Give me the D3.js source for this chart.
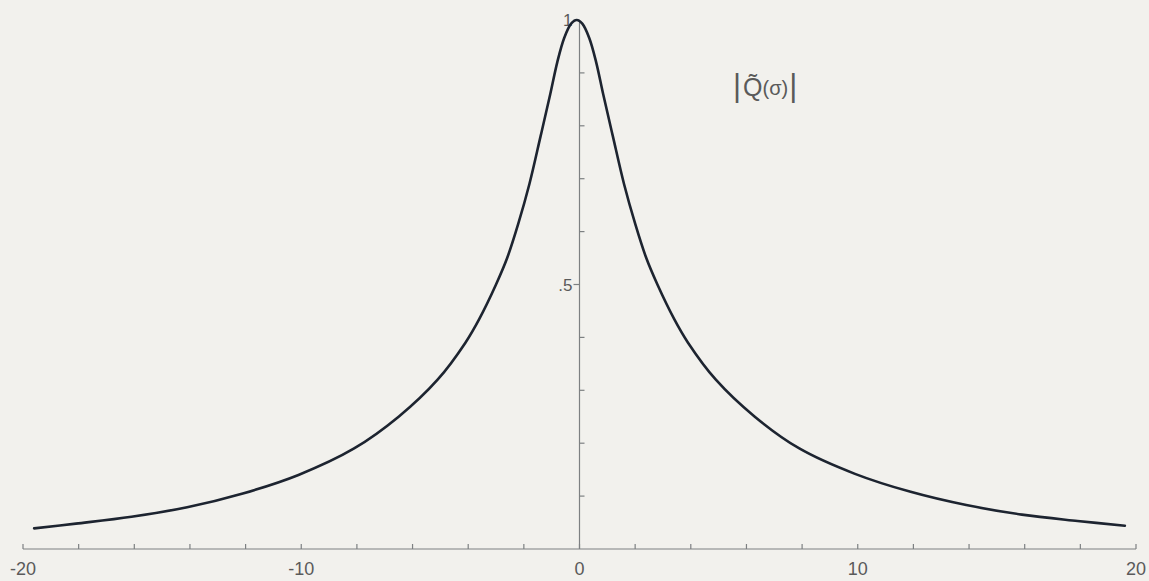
<!doctype html>
<html>
  <meta charset="utf-8">
  <head>
    <script src="https://d3js.org/d3.v7.min.js"></script>
    <style type='text/css'>
      body{ margin:0; background:#f2f1ed; }
      text{ font-family:"Liberation Sans", Arial, sans-serif; fill:#5a5a5a; }
    </style>
  </head>
  <body>
    <svg id="chart"></svg>
    <script type="text/javascript">
      // sigma and |Q(sigma)|
      var sigma = [-19.6,-18.1,-16.1,-14.1,-12.1,-10.1,-8.1,-6.5,-5.1,-4.1,-3.6,-3.0,-2.6,-2.2,-1.8,-1.4,-1.05,-0.8,-0.55,-0.3,-0.1,
                   0.1,0.35,0.6,0.85,1.2,1.6,2.0,2.4,2.8,3.4,3.9,4.9,6.3,7.9,9.9,11.9,13.9,15.9,17.9,19.6];
      var qAbs  = [0.039,0.048,0.061,0.079,0.105,0.14,0.19,0.25,0.32,0.39,0.435,0.50,0.55,0.615,0.69,0.78,0.86,0.92,0.966,0.993,1,
                   0.993,0.966,0.92,0.86,0.78,0.69,0.615,0.55,0.50,0.435,0.39,0.32,0.25,0.19,0.142,0.108,0.083,0.065,0.053,0.044];
      var xTicks = d3.range(-20,21,2);
      var xLabels = [-20,-10,0,10,20];
      var yTicks = d3.range(0.1,1.01,0.1);
      var yLabels = [{v:1,t:'1'},{v:0.5,t:'.5'}];

      var w = 1149, h = 581;
      var svg = d3.select('#chart').attr('width',w).attr('height',h);

      var xScale = d3.scaleLinear().domain([-20,20]).range([23,1136]);
      var yScale = d3.scaleLinear().domain([0,1]).range([549,20]);
      var axisColor = '#7d8082';

      //x axis line + ticks pointing up
      svg.append('line')
        .attr('x1',xScale(-20)).attr('x2',xScale(20))
        .attr('y1',yScale(0)).attr('y2',yScale(0))
        .attr('stroke',axisColor).attr('stroke-width',1.2);
      svg.selectAll('line.xt').data(xTicks).enter()
        .append('line').attr('class','xt')
        .attr('x1',(d)=>xScale(d)).attr('x2',(d)=>xScale(d))
        .attr('y1',yScale(0)).attr('y2',yScale(0)-5)
        .attr('stroke',axisColor).attr('stroke-width',1.2);
      svg.selectAll('text.xl').data(xLabels).enter()
        .append('text').attr('class','xl')
        .attr('x',(d)=>xScale(d)).attr('y',yScale(0)+26)
        .attr('text-anchor','middle').attr('font-size',18)
        .text((d)=>d<0 ? '-'+Math.abs(d) : d);

      //y axis at sigma = 0
      svg.append('line')
        .attr('x1',xScale(0)).attr('x2',xScale(0))
        .attr('y1',yScale(0)).attr('y2',yScale(1))
        .attr('stroke',axisColor).attr('stroke-width',1.2);
      svg.selectAll('line.yt').data(yTicks).enter()
        .append('line').attr('class','yt')
        .attr('x1',xScale(0)).attr('x2',(d)=>{
          var lab = Math.abs(d-1)<1e-6 || Math.abs(d-0.5)<1e-6;
          return xScale(0) + (lab ? -6 : 5);
        })
        .attr('y1',(d)=>yScale(d)).attr('y2',(d)=>yScale(d))
        .attr('stroke',axisColor).attr('stroke-width',1.2);
      svg.selectAll('text.yl').data(yLabels).enter()
        .append('text').attr('class','yl')
        .attr('x',xScale(0)-7).attr('y',(d)=>yScale(d.v)+6)
        .attr('text-anchor','end').attr('font-size',17)
        .text((d)=>d.t);

      //curve
      var pts = sigma.map((s,i)=>({x:s,y:qAbs[i]}));
      var line = d3.line()
        .x((d)=>xScale(d.x)).y((d)=>yScale(d.y))
        .curve(d3.curveCatmullRom.alpha(0.5));
      svg.append('path').datum(pts)
        .attr('d',line).attr('fill','none')
        .attr('stroke','#1d2430').attr('stroke-width',2.6)
        .attr('stroke-linecap','round');

      //label |Q~(sigma)|
      var lab = svg.append('text').attr('x',733).attr('y',96).attr('font-size',25);
      lab.append('tspan').attr('font-size',31).text('|');
      lab.append('tspan').attr('dx',2).text('Q\u0303');
      lab.append('tspan').attr('font-size',20).attr('dy',-1).text('(\u03c3)');
      lab.append('tspan').attr('font-size',31).attr('dy',1).attr('dx',1).text('|');
    </script>
  </body>
</html>
